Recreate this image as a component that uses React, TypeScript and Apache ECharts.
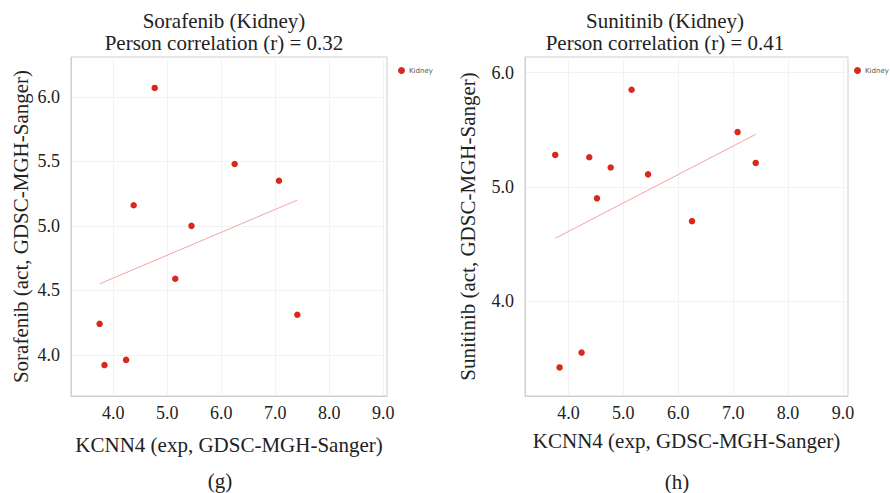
import React, { useEffect, useRef } from "react";
import * as echarts from "echarts";

// Panel (g): Sorafenib vs KCNN4
const kcnn4Sorafenib = [3.75, 3.84, 4.24, 4.38, 4.77, 5.15, 5.45, 6.25, 7.07, 7.41];
const sorafenibAct = [4.24, 3.92, 3.96, 5.16, 6.07, 4.59, 5.0, 5.48, 5.35, 4.31];
const sorafenibFitX = [3.75, 7.41];
const sorafenibFitY = [4.55, 5.2];
const sorafenibYTicks = [4.0, 4.5, 5.0, 5.5, 6.0];

// Panel (h): Sunitinib vs KCNN4
const kcnn4Sunitinib = [3.76, 3.84, 4.24, 4.38, 4.52, 4.77, 5.15, 5.45, 6.25, 7.08, 7.41];
const sunitinibAct = [5.28, 3.42, 3.55, 5.26, 4.9, 5.17, 5.85, 5.11, 4.7, 5.48, 5.21];
const sunitinibFitX = [3.76, 7.41];
const sunitinibFitY = [4.55, 5.46];
const sunitinibYTicks = [4.0, 5.0, 6.0];

const xTicks = [4.0, 5.0, 6.0, 7.0, 8.0, 9.0];

const titles = [
  "Sorafenib (Kidney)\nPerson correlation (r) = 0.32",
  "Sunitinib (Kidney)\nPerson correlation (r) = 0.41",
];
const captions = ["(g)", "(h)"];
const xNames = ["KCNN4 (exp, GDSC-MGH-Sanger)", "KCNN4 (exp, GDSC-MGH-Sanger)"];
const yNames = ["Sorafenib (act, GDSC-MGH-Sanger)", "Sunitinib (act, GDSC-MGH-Sanger)"];
const legendName = "Kidney";

const SERIF = "'Liberation Serif', 'Times New Roman', serif";
const TEXT = "#222";
const DOT = "#d9281c";
const FIT = "#f5a3a3";

const zip = (a: number[], b: number[]) => a.map((v, i) => [v, b[i]]);

export default function App() {
  const ref = useRef<HTMLDivElement>(null);
  useEffect(() => {
    if (!ref.current) return;
    const chart = echarts.init(ref.current, null, { renderer: "svg" });

    const xAxisBase = (gridIndex: number, min: number, max: number, nameGap: number) => ({
      type: "value",
      gridIndex,
      min,
      max,
      name: xNames[gridIndex],
      nameLocation: "middle",
      nameGap,
      nameTextStyle: { fontFamily: SERIF, fontSize: 21, color: TEXT },
      axisLine: { show: true, lineStyle: { color: "#cfcfcf", width: 1 } },
      axisTick: { show: false, customValues: xTicks },
      axisLabel: {
        customValues: xTicks,
        formatter: (v: number) => v.toFixed(1),
        fontFamily: SERIF,
        fontSize: 18,
        color: TEXT,
        margin: 8,
      },
      splitLine: { show: true, lineStyle: { color: "#f2f2f2", width: 1 } },
    });

    const yAxisBase = (
      gridIndex: number,
      min: number,
      max: number,
      ticks: number[],
      nameGap: number
    ) => ({
      type: "value",
      gridIndex,
      min,
      max,
      name: yNames[gridIndex],
      nameLocation: "middle",
      nameGap,
      nameTextStyle: { fontFamily: SERIF, fontSize: 21, color: TEXT },
      axisLine: { show: true, lineStyle: { color: "#cfcfcf", width: 1 } },
      axisTick: { show: false, customValues: ticks },
      axisLabel: {
        customValues: ticks,
        formatter: (v: number) => v.toFixed(1),
        fontFamily: SERIF,
        fontSize: 18,
        color: TEXT,
        margin: 11,
      },
      splitLine: { show: true, lineStyle: { color: "#f2f2f2", width: 1 } },
    });

    const legendBase = (left: number) => ({
      data: [{ name: legendName, icon: "circle" }],
      left,
      top: 67,
      padding: 0,
      itemWidth: 7,
      itemHeight: 7,
      itemGap: 4,
      textStyle: { fontFamily: "'DejaVu Sans', sans-serif", fontSize: 7, color: "#555", padding: [0, 0, 0, -1] },
    });

    const option: any = {
      animation: false,
      backgroundColor: "#fff",
      grid: [
        { left: 71, top: 57, width: 316, height: 339, show: true, borderColor: "#cfcfcf", borderWidth: 1, backgroundColor: "transparent" },
        { left: 525, top: 57, width: 323, height: 339, show: true, borderColor: "#cfcfcf", borderWidth: 1, backgroundColor: "transparent" },
      ],
      xAxis: [xAxisBase(0, 3.22, 9.07, 38), xAxisBase(1, 3.21, 9.09, 34)],
      yAxis: [
        yAxisBase(0, 3.68, 6.31, sorafenibYTicks, 40),
        yAxisBase(1, 3.17, 6.137, sunitinibYTicks, 47),
      ],
      legend: [legendBase(398), legendBase(854)],
      series: [
        {
          name: "fit-g",
          type: "line",
          xAxisIndex: 0,
          yAxisIndex: 0,
          data: zip(sorafenibFitX, sorafenibFitY),
          showSymbol: false,
          lineStyle: { color: FIT, width: 1 },
          silent: true,
        },
        {
          name: legendName,
          type: "scatter",
          xAxisIndex: 0,
          yAxisIndex: 0,
          data: zip(kcnn4Sorafenib, sorafenibAct),
          symbolSize: 6.5,
          itemStyle: { color: DOT, opacity: 1 },
        },
        {
          name: "fit-h",
          type: "line",
          xAxisIndex: 1,
          yAxisIndex: 1,
          data: zip(sunitinibFitX, sunitinibFitY),
          showSymbol: false,
          lineStyle: { color: FIT, width: 1 },
          silent: true,
        },
        {
          name: legendName,
          type: "scatter",
          xAxisIndex: 1,
          yAxisIndex: 1,
          data: zip(kcnn4Sunitinib, sunitinibAct),
          symbolSize: 6.5,
          itemStyle: { color: DOT, opacity: 1 },
        },
      ],
      graphic: [
        {
          type: "text",
          x: 224,
          y: 32,
          style: {
            text: titles[0],
            align: "center",
            verticalAlign: "middle",
            fontFamily: SERIF,
            fontSize: 21,
            lineHeight: 22,
            fill: TEXT,
          },
        },
        {
          type: "text",
          x: 665,
          y: 32,
          style: {
            text: titles[1],
            align: "center",
            verticalAlign: "middle",
            fontFamily: SERIF,
            fontSize: 21,
            lineHeight: 22,
            fill: TEXT,
          },
        },
        {
          type: "text",
          x: 220,
          y: 481,
          style: { text: captions[0], align: "center", verticalAlign: "middle", fontFamily: SERIF, fontSize: 21, fill: TEXT },
        },
        {
          type: "text",
          x: 677,
          y: 482,
          style: { text: captions[1], align: "center", verticalAlign: "middle", fontFamily: SERIF, fontSize: 21, fill: TEXT },
        },
      ],
    };

    chart.setOption(option);
    return () => chart.dispose();
  }, []);

  return (
    <div
      ref={ref}
      style={{ position: "fixed", left: 0, top: 0, width: 890, height: 493, background: "#fff" }}
    />
  );
}
